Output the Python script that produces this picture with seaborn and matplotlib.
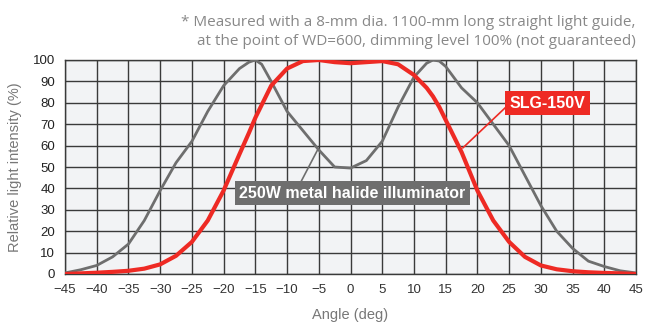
import numpy as np
import pandas as pd
import matplotlib
matplotlib.use("Agg")
import matplotlib.pyplot as plt
import seaborn as sns

# Valores
angulos = [-45, -42.5, -40, -37.5, -35, -32.5, -30, -27.5, -25, -22.5, -20, -17.5, -16, -15,
           -14, -12.5, -10, -7.5, -5, -2.5, 0, 2.5, 5, 7.5, 10, 12, 13, 14, 15, 17.5, 20, 22.5,
           25, 27.5, 30, 32.5, 35, 37.5, 40, 42.5, 45]
slg_150v = [0, 0.3, 0.6, 1, 1.5, 2.5, 4.5, 8.5, 15, 25, 39, 56, 66, 73,
            79, 88, 96, 99.5, 100, 99, 98.5, 99, 99.5, 98, 93, 87, 83, 78, 72, 57, 39, 25,
            15, 8, 4, 2.2, 1.3, 0.8, 0.5, 0.3, 0]
halogenuro = [0.5, 2, 4, 8, 14, 25, 39, 52, 62, 76, 88, 96, 99, 100,
              98, 90, 76, 67, 58, 50, 49.5, 53, 62, 78, 92, 98.5, 100, 99.5, 97, 87, 80, 70,
              60, 46, 32, 20, 12, 6, 3.5, 1.5, 0.5]
x_ticks = list(range(-45, 46, 5))
y_ticks = list(range(0, 101, 10))

datos = pd.DataFrame({"Angle": angulos, "SLG-150V": slg_150v, "Halide": halogenuro})

sns.set_style("white")
plt.rcParams["font.family"] = ["Liberation Sans", "DejaVu Sans"]

fig = plt.figure(figsize=(6.56, 3.35), dpi=100)
ax = fig.add_axes([65 / 656, 1 - 274 / 335, (636 - 65) / 656, (274 - 60) / 335])
ax.set_facecolor("#f2f3f5")

sns.lineplot(data=datos, x="Angle", y="Halide", color="#6e6e6e", linewidth=2, ax=ax, zorder=3)
sns.lineplot(data=datos, x="Angle", y="SLG-150V", color="#ee2a24", linewidth=3, ax=ax, zorder=4)

ax.set_xlim(-45, 45)
ax.set_ylim(0, 100)
ax.set_xticks(x_ticks)
ax.set_yticks(y_ticks)
ax.grid(True, color="#3a3a3a", linewidth=1)
ax.set_axisbelow(True)
for s in ax.spines.values():
    s.set_color("#3a3a3a")
    s.set_linewidth(1)
ax.tick_params(length=0, labelsize=9.5, pad=7)
for t in ax.get_xticklabels():
    t.set_color("#333333")
for t in ax.get_yticklabels():
    t.set_color("#222222")
ax.set_xlabel("Angle (deg)", fontsize=10.5, color="#777777", labelpad=9)
ax.set_ylabel("Relative light intensity (%)", fontsize=10.5, color="#777777", labelpad=8)

# Etiquetas con lineas
ax.plot([17.7, 24.5], [58.9, 78], color="#ee2a24", linewidth=1.2, zorder=5)
ax.text(31, 79.8, "SLG-150V", color="white", fontsize=11.5, fontweight="bold", ha="center", va="center",
        bbox=dict(boxstyle="square,pad=0.28", fc="#ee2a24", ec="none"), zorder=6)
ax.plot([-5.1, -8], [58.5, 42], color="#6e6e6e", linewidth=1.2, zorder=5)
ax.text(0.3, 37.8, "250W metal halide illuminator", color="white", fontsize=11.5, fontweight="bold",
        ha="center", va="center",
        bbox=dict(boxstyle="square,pad=0.28", fc="#6e6e6e", ec="none"), zorder=6)

fig.text(0.969, 0.955, "* Measured with a 8-mm dia. 1100-mm long straight light guide,\n"
         "   at the point of WD=600, dimming level 100% (not guaranteed)",
         ha="right", va="top", fontsize=11, color="#888888", linespacing=1.35,
         family=["Open Sans", "DejaVu Sans"])

fig.savefig("out.png", dpi=100)
